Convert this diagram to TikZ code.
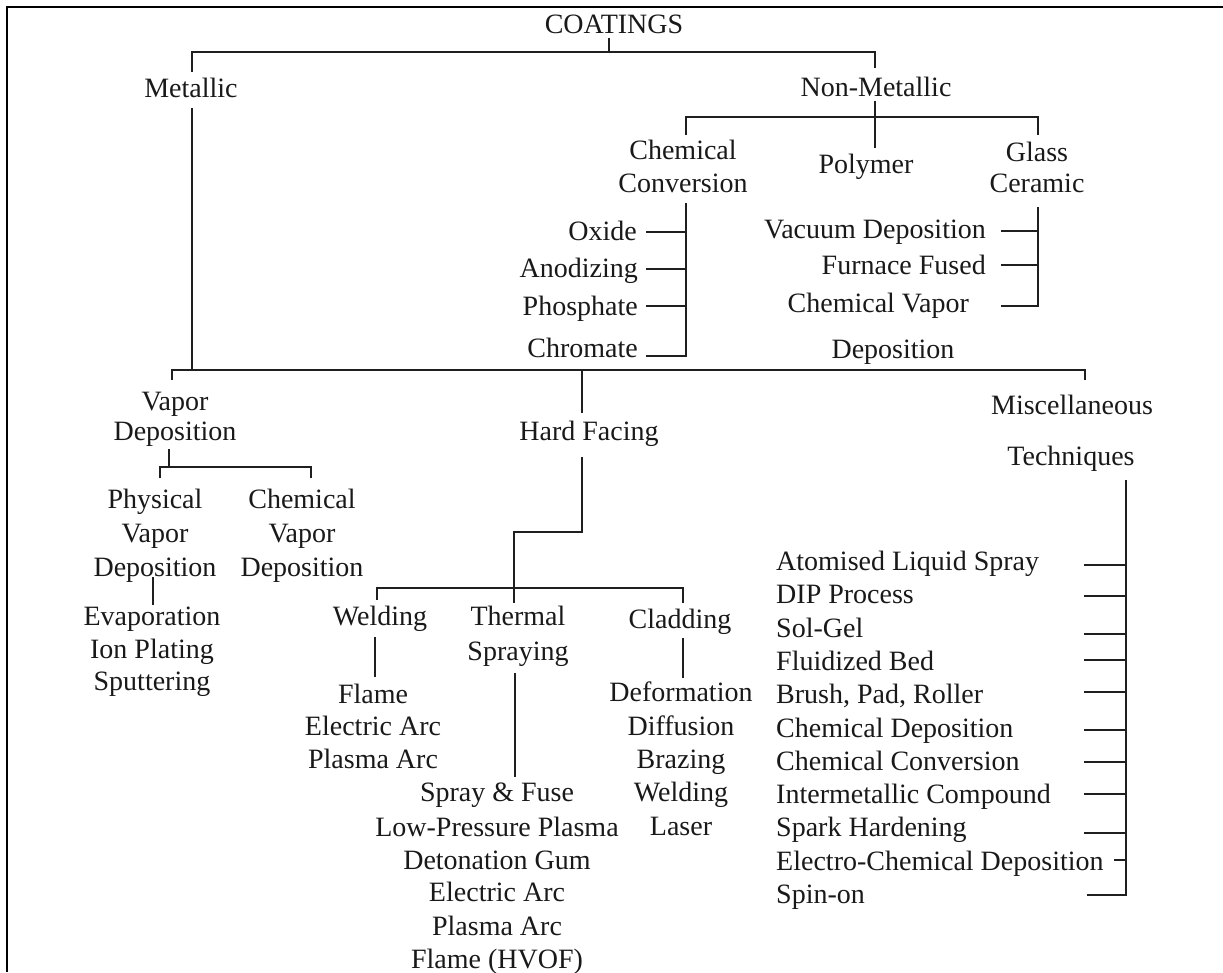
\documentclass[tikz,border=0pt]{standalone}
\usepackage{fontspec}
\setmainfont{Liberation Serif}
\begin{document}
\begin{tikzpicture}[x=1pt,y=-1pt,
  lbl/.style={inner sep=0pt, anchor=base, text=black!90, font=\fontsize{28}{33}\selectfont},
  lblr/.style={lbl, anchor=base east},
  lbll/.style={lbl, anchor=base west},
  conn/.style={line width=2pt, draw=black!88},
  frame/.style={line width=2.8pt, draw=black}]
\useasboundingbox (0,0) rectangle (1223,972);
\draw[frame] (7,972) -- (7,7) -- (1223,7);

% ---------- top level ----------
\node[lbl] (coat) at (614,33) {COATINGS};
\node[lbl] (met) at (191,97) {Metallic};
\node[lbl] (nonmet) at (876,96) {Non-Metallic};

% ---------- non-metallic ----------
\node[lbl] (cc1) at (683,159) {Chemical};
\node[lbl] (cc2) at (683,192) {Conversion};
\node[lbl] (poly) at (866,173) {Polymer};
\node[lbl] (gc1) at (1037,161) {Glass};
\node[lbl] (gc2) at (1037,192) {Ceramic};
\node[lblr] (oxide) at (637,240) {Oxide};
\node[lblr] (anod) at (638,277) {Anodizing};
\node[lblr] (phos) at (638,315) {Phosphate};
\node[lblr] (chrom) at (638,357) {Chromate};
\node[lblr] (vac) at (986,238) {Vacuum Deposition};
\node[lblr] (furn) at (986,274) {Furnace Fused};
\node[lblr] (cvap) at (969,312) {Chemical Vapor};
\node[lbl] (cvdep) at (893,358) {Deposition};

% ---------- metallic ----------
\node[lbl] (vd1) at (175,410) {Vapor};
\node[lbl] (vd2) at (175,440) {Deposition};
\node[lbl] (hf) at (589,440) {Hard Facing};
\node[lbl] (misc1) at (1072,414) {Miscellaneous};
\node[lbl] (misc2) at (1071,465) {Techniques};

\node[lbl] (pvd1) at (155,508) {Physical};
\node[lbl] (pvd2) at (155,542) {Vapor};
\node[lbl] (pvd3) at (155,576) {Deposition};
\node[lbl] (cvd1) at (302,508) {Chemical};
\node[lbl] (cvd2) at (302,542) {Vapor};
\node[lbl] (cvd3) at (302,576) {Deposition};
\node[lbl] (evap) at (152,625) {Evaporation};
\node[lbl] (ion) at (152,658) {Ion Plating};
\node[lbl] (sput) at (152,690) {Sputtering};

\node[lbl] (weld) at (380,625) {Welding};
\node[lbl] (ts1) at (518,625) {Thermal};
\node[lbl] (ts2) at (518,660) {Spraying};
\node[lbl] (clad) at (680,628) {Cladding};

\node[lbl] (w1) at (373,703) {Flame};
\node[lbl] (w2) at (373,735) {Electric Arc};
\node[lbl] (w3) at (373,768) {Plasma Arc};

\node[lbl] (t1) at (497,801) {Spray \& Fuse};
\node[lbl] (t2) at (497,836) {Low-Pressure Plasma};
\node[lbl] (t3) at (497,869) {Detonation Gum};
\node[lbl] (t4) at (497,901) {Electric Arc};
\node[lbl] (t5) at (497,935) {Plasma Arc};
\node[lbl] (t6) at (497,968) {Flame (HVOF)};

\node[lbl] (c1) at (681,701) {Deformation};
\node[lbl] (c2) at (681,735) {Diffusion};
\node[lbl] (c3) at (681,768) {Brazing};
\node[lbl] (c4) at (681,801) {Welding};
\node[lbl] (c5) at (681,835) {Laser};

\node[lbll] (m1) at (776,570) {Atomised Liquid Spray};
\node[lbll] (m2) at (776,603) {DIP Process};
\node[lbll] (m3) at (776,637) {Sol-Gel};
\node[lbll] (m4) at (776,670) {Fluidized Bed};
\node[lbll] (m5) at (776,703) {Brush, Pad, Roller};
\node[lbll] (m6) at (776,737) {Chemical Deposition};
\node[lbll] (m7) at (776,770) {Chemical Conversion};
\node[lbll] (m8) at (776,803) {Intermetallic Compound};
\node[lbll] (m9) at (776,836) {Spark Hardening};
\node[lbll] (m10) at (776,870) {Electro-Chemical Deposition};
\node[lbll] (m11) at (776,903) {Spin-on};

% ---------- junction coordinates ----------
\coordinate (coatS) at (609,38);
\coordinate (topL) at (192,52);
\coordinate (topM) at (609,52);
\coordinate (topR) at (875,52);
\coordinate (metN) at (192,72);
\coordinate (nonN) at (875,68);
\coordinate (nonS) at (875,101);
\coordinate (nonE) at (875,148);
\coordinate (nbL) at (686,117);
\coordinate (nbR) at (1038,117);
\coordinate (ccN) at (686,135);
\coordinate (gcN) at (1038,135);
\coordinate (ccS) at (686,203);
\coordinate (ccB) at (686,356);
\coordinate (gcS) at (1038,207);
\coordinate (gcB) at (1038,306);
\coordinate (metS) at (192,108);
\coordinate (mainM) at (192,370);
\coordinate (mainL) at (172,370);
\coordinate (mainR) at (1085,370);
\coordinate (mainH) at (582,370);
\coordinate (vdN) at (172,380);
\coordinate (miscN) at (1085,380);
\coordinate (hfN) at (582,413);
\coordinate (hfS) at (582,457);
\coordinate (hfK1) at (582,532);
\coordinate (hfK2) at (514,532);
\coordinate (hbM) at (514,588);
\coordinate (tsN) at (514,603);
\coordinate (hbL) at (377,588);
\coordinate (hbR) at (683,588);
\coordinate (weldN) at (377,600);
\coordinate (cladN) at (683,603);
\coordinate (weldS) at (375,637);
\coordinate (weldE) at (375,677);
\coordinate (tsS) at (515,673);
\coordinate (tsE) at (515,777);
\coordinate (cladS) at (683,638);
\coordinate (cladE) at (683,678);
\coordinate (vdS) at (169,449);
\coordinate (vbM) at (169,467);
\coordinate (vbL) at (160,467);
\coordinate (vbR) at (311,467);
\coordinate (pvdN) at (160,478);
\coordinate (cvdN) at (311,478);
\coordinate (pvdS) at (153,577);
\coordinate (pvdE) at (153,605);
\coordinate (miscS) at (1126,480);
\coordinate (miscB) at (1126,895);

% ---------- connectors ----------
\draw[conn] (coatS) -- (topM);
\draw[conn] (metN) -- (topL) -- (topR) -- (nonN);
\draw[conn] (nonS) -- (nonE);
\draw[conn] (ccN) -- (nbL) -- (nbR) -- (gcN);
\draw[conn] (ccS) -- (ccB) -- (646,356);
\foreach \yy in {232,269,306} \draw[conn] (646,\yy) -- (686,\yy);
\draw[conn] (gcS) -- (gcB) -- (1001,306);
\foreach \yy in {231,265} \draw[conn] (1001,\yy) -- (1038,\yy);
\draw[conn] (metS) -- (mainM);
\draw[conn] (vdN) -- (mainL) -- (mainR) -- (miscN);
\draw[conn] (mainH) -- (hfN);
\draw[conn] (hfS) -- (hfK1) -- (hfK2) -- (tsN);
\draw[conn] (weldN) -- (hbL) -- (hbR) -- (cladN);
\draw[conn] (weldS) -- (weldE);
\draw[conn] (tsS) -- (tsE);
\draw[conn] (cladS) -- (cladE);
\draw[conn] (vdS) -- (vbM);
\draw[conn] (pvdN) -- (vbL) -- (vbR) -- (cvdN);
\draw[conn] (pvdS) -- (pvdE);
\draw[conn] (miscS) -- (miscB) -- (1087,895);
\foreach \yy in {565,596,634,660,692,730,762,794,833} \draw[conn] (1084,\yy) -- (1126,\yy);
\draw[conn] (1114,860) -- (1126,860);
\end{tikzpicture}
\end{document}
